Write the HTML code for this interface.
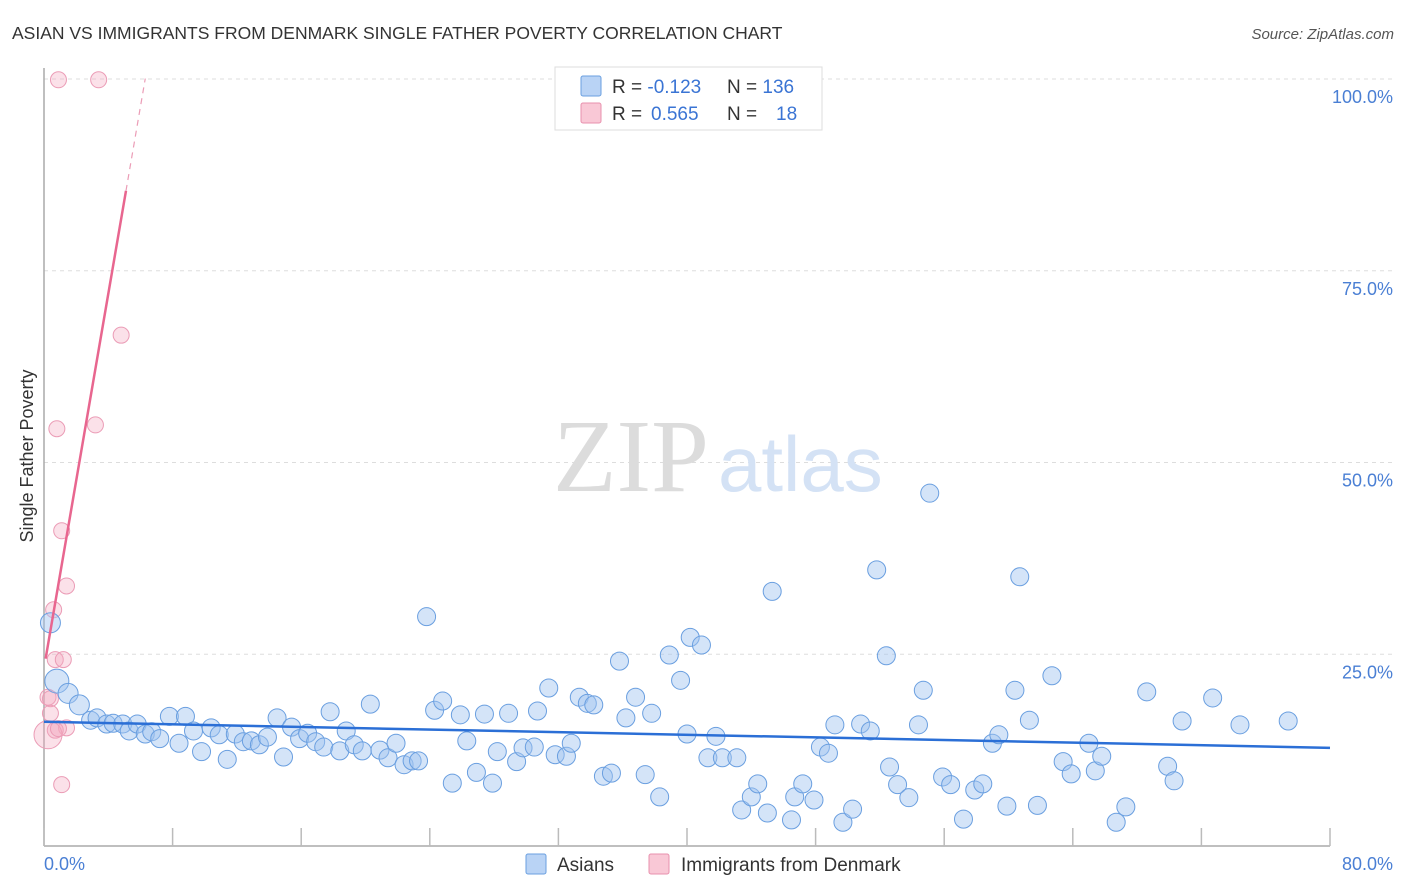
<!DOCTYPE html>
<html><head><meta charset="utf-8"><style>
body{margin:0;background:#fff;font-family:"Liberation Sans",sans-serif;}
svg{display:block}
</style></head><body>
<svg id="chart" width="1406" height="892" xmlns="http://www.w3.org/2000/svg" font-family="Liberation Sans, sans-serif">
<text x="12" y="39" font-size="17.5" fill="#333">ASIAN VS IMMIGRANTS FROM DENMARK SINGLE FATHER POVERTY CORRELATION CHART</text>
<text x="1394" y="39" font-size="15" fill="#555" font-style="italic" text-anchor="end">Source: ZipAtlas.com</text>
<g id="grid"></g>
<text x="553" y="491" font-size="104" fill="#dcdcdc" font-family="Liberation Serif, serif">ZIP</text>
<text x="718" y="491" font-size="78" fill="#d4e2f5">atlas</text>
<g id="axes"></g>
<g id="pinkpts"></g>
<g id="bluepts"></g>
<g id="trends"></g>
<text x="33" y="456" font-size="18" fill="#333" text-anchor="middle" transform="rotate(-90 33 456)">Single Father Poverty</text>
<text x="44" y="870" font-size="18" fill="#4a7fd4">0.0%</text>
<text x="1393" y="870" font-size="18" fill="#4a7fd4" text-anchor="end">80.0%</text>
<g>
<rect x="555" y="67" width="267" height="63" fill="#fff" stroke="#ddd"/>
<rect x="581" y="76" width="20" height="20" fill="#b9d3f5" stroke="#6a9fe0" rx="2"/>
<rect x="581" y="103" width="20" height="20" fill="#f9c8d6" stroke="#e890ad" rx="2"/>
<text x="612" y="93" font-size="19" fill="#333">R = <tspan fill="#3a74d4">-0.123</tspan><tspan x="727">N = </tspan><tspan fill="#3a74d4">136</tspan></text>
<text x="612" y="120" font-size="19" fill="#333">R = <tspan x="651" fill="#3a74d4">0.565</tspan><tspan x="727">N = </tspan><tspan x="776" fill="#3a74d4">18</tspan></text>
</g>
<g>
<rect x="526" y="854" width="20" height="20" fill="#b9d3f5" stroke="#6a9fe0" rx="2"/>
<text x="557" y="871" font-size="19" fill="#333">Asians</text>
<rect x="649" y="854" width="20" height="20" fill="#f9c8d6" stroke="#e890ad" rx="2"/>
<text x="681" y="871" font-size="19" fill="#333">Immigrants from Denmark</text>
</g>
</svg>
<script>
const yTicks=[25,50,75,100];
const yTickLabels=["25.0%","50.0%","75.0%","100.0%"];
const xTicks=[0,8,16,24,32,40,48,56,64,72,80];
const blueX=[0.4,0.8,1.5,2.2,2.9,3.3,3.9,4.3,4.9,5.3,5.8,6.3,6.7,7.2,7.8,8.4,8.8,9.3,9.8,10.4,10.9,11.4,11.9,12.4,12.9,13.4,13.9,14.5,14.9,15.4,15.9,16.4,16.9,17.4,17.8,18.4,18.8,19.3,19.8,20.3,20.9,21.4,21.9,22.4,22.9,23.3,23.8,24.3,24.8,25.4,25.9,26.3,26.9,27.4,27.9,28.2,28.9,29.4,29.8,30.5,30.7,31.4,31.8,32.5,32.8,33.3,33.8,34.2,34.8,35.3,35.8,36.2,36.8,37.4,37.8,38.3,38.9,39.6,40.0,40.2,40.9,41.3,41.8,42.2,43.1,43.4,44.0,44.4,45.0,45.3,46.5,46.7,47.2,47.9,48.3,48.8,49.2,49.7,50.3,50.8,51.4,51.8,52.4,52.6,53.1,53.8,54.4,54.7,55.1,55.9,56.4,57.2,57.9,58.4,59.0,59.4,59.9,60.4,60.7,61.3,61.8,62.7,63.4,63.9,65.0,65.4,65.8,66.7,67.3,68.6,69.9,70.3,70.8,72.7,74.4,77.4];
const blueY=[29.1,21.5,19.9,18.4,16.4,16.7,15.9,16.0,15.9,15.0,15.9,14.6,14.9,14.0,16.9,13.4,16.9,15.0,12.3,15.4,14.5,11.3,14.6,13.6,13.7,13.2,14.2,16.7,11.6,15.5,14.0,14.7,13.6,12.9,17.5,12.4,15.0,13.2,12.4,18.5,12.5,11.5,13.4,10.6,11.1,11.1,29.9,17.7,18.9,8.2,17.1,13.7,9.6,17.2,8.2,12.3,17.3,11.0,12.8,12.9,17.6,20.6,11.9,11.7,13.4,19.4,18.6,18.4,9.1,9.5,24.1,16.7,19.4,9.3,17.3,6.4,24.9,21.6,14.6,27.2,26.2,11.5,14.3,11.5,11.5,4.7,6.4,8.1,4.3,33.2,3.4,6.4,8.1,6.0,12.9,12.1,15.8,3.1,4.8,15.9,15.0,36.0,24.8,10.3,8.0,6.3,15.8,20.3,46.0,9.0,8.0,3.5,7.3,8.1,13.4,14.5,5.2,20.3,35.1,16.4,5.3,22.2,11.0,9.4,13.4,9.8,11.7,3.1,5.1,20.1,10.4,8.5,16.3,19.3,15.8,16.3];
const pinkX=[0.9,3.4,4.8,3.2,0.8,1.1,1.4,0.6,0.7,1.2,0.25,0.4,0.4,1.4,0.7,0.25,0.9,1.1];
const pinkY=[99.9,99.9,66.6,54.9,54.4,41.1,33.9,30.8,24.3,24.3,19.4,19.2,17.3,15.4,15.1,14.5,15.3,8.0];
const blueTrend=[16.2,12.8];
const pinkTrend=[23.2,12.2];

const X0=44,X1=1330,Y0=846,Y1=79;
const sx=v=>X0+(v/80)*(X1-X0);
const sy=v=>Y0-(v/100)*(Y0-Y1);
const NS="http://www.w3.org/2000/svg";
function mk(tag,parent,attrs){const e=document.createElementNS(NS,tag);for(const k in attrs)e.setAttribute(k,attrs[k]);parent.appendChild(e);return e;}
const grid=document.getElementById('grid'),axes=document.getElementById('axes');
yTicks.forEach((t,i)=>{
 const l=mk('line',grid,{x1:X0,x2:1394,y1:sy(t),y2:sy(t),stroke:'#ddd','stroke-dasharray':'4,4'});
 
 
 const tx=mk('text',grid,{x:1393,y:sy(t)+24,'font-size':18,fill:'#4a7fd4','text-anchor':'end'});
 tx.textContent=yTickLabels[i];
 
 
});
mk('line',axes,{x1:X0,x2:X0,y1:68,y2:Y0,stroke:'#aaa','stroke-width':1.5});
mk('line',axes,{x1:X0,x2:X1,y1:Y0,y2:Y0,stroke:'#aaa','stroke-width':1.5});
xTicks.forEach(t=>{
 const l=mk('line',axes,{x1:sx(t),x2:sx(t),y1:828,y2:Y0,stroke:'#bbb','stroke-width':1.5});
 
 
});
const pg=document.getElementById('pinkpts');
pinkX.forEach((x,i)=>{
 const r=(i===15)?14:8;
 const c=mk('circle',pg,{cx:sx(x),cy:sy(pinkY[i]),r:r,fill:'rgba(244,170,192,0.35)',stroke:'#eb9cb6','stroke-width':1});
 
 
});
const bg=document.getElementById('bluepts');
blueX.forEach((x,i)=>{
 const r=(i===1)?12:(i<4?10:9);
 const c=mk('circle',bg,{cx:sx(x),cy:sy(blueY[i]),r:r,fill:'rgba(160,196,240,0.45)',stroke:'#6a9fe0','stroke-width':1});
 
 
});
const tg=document.getElementById('trends');
const bl=mk('line',tg,{x1:sx(0),y1:sy(blueTrend[0]),x2:sx(80),y2:sy(blueTrend[1]),stroke:'#2b6fd6','stroke-width':2.5});


const pf=x=>pinkTrend[0]+pinkTrend[1]*x;
const pl=mk('line',tg,{x1:sx(0.1),y1:sy(pf(0.1)),x2:sx(5.1),y2:sy(pf(5.1)),stroke:'#e8668f','stroke-width':2.5});


const pd=mk('line',tg,{x1:sx(5.1),y1:sy(pf(5.1)),x2:sx(6.3),y2:sy(pf(6.3)),stroke:'#eb9cb6','stroke-width':1.2,'stroke-dasharray':'6,5'});


</script>
</body></html>
